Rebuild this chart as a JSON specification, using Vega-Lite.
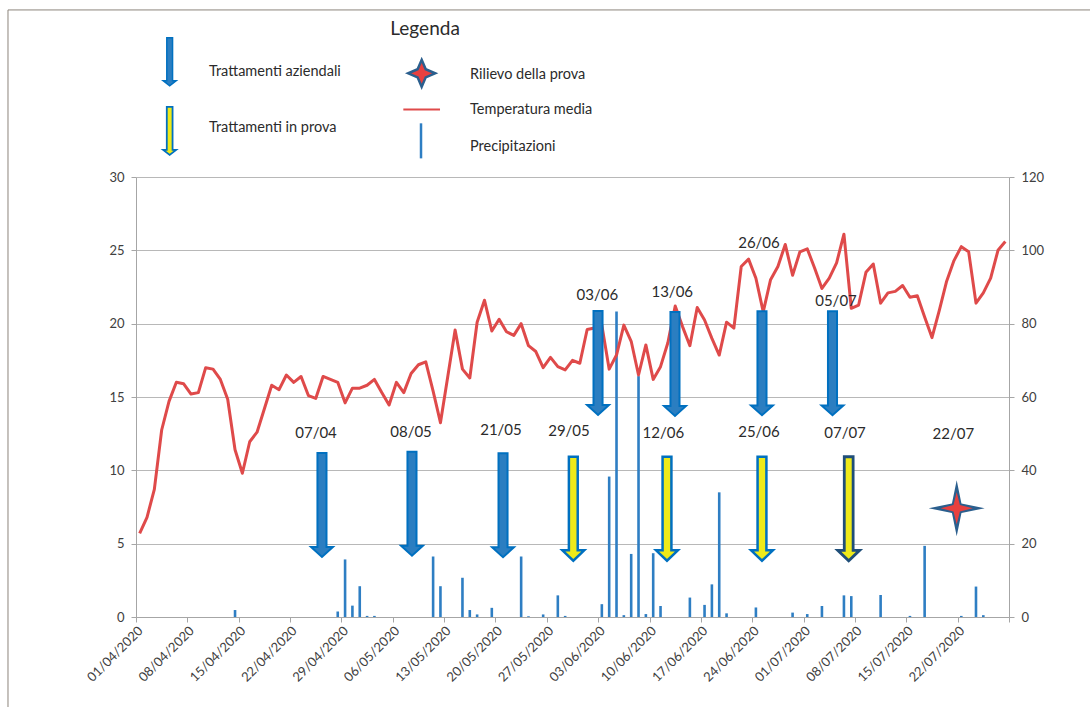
{
  "$schema": "https://vega.github.io/schema/vega-lite/v6.json",
  "width": 873,
  "height": 440,
  "autosize": {"type": "none"},
  "padding": {"left": 136, "top": 177, "right": 81, "bottom": 90},
  "background": "white",
  "config": {
    "view": {"stroke": null},
    "font": "Lato"
  },
  "datasets": {
    "daily": [
      {"date": "2020-04-01", "temp": 5.7, "precip": 0},
      {"date": "2020-04-02", "temp": 6.8, "precip": 0},
      {"date": "2020-04-03", "temp": 8.7, "precip": 0},
      {"date": "2020-04-04", "temp": 12.75, "precip": 0},
      {"date": "2020-04-05", "temp": 14.7, "precip": 0},
      {"date": "2020-04-06", "temp": 16.0, "precip": 0},
      {"date": "2020-04-07", "temp": 15.9, "precip": 0},
      {"date": "2020-04-08", "temp": 15.2, "precip": 0},
      {"date": "2020-04-09", "temp": 15.3, "precip": 0},
      {"date": "2020-04-10", "temp": 17.0, "precip": 0},
      {"date": "2020-04-11", "temp": 16.9, "precip": 0},
      {"date": "2020-04-12", "temp": 16.2, "precip": 0},
      {"date": "2020-04-13", "temp": 14.85, "precip": 0},
      {"date": "2020-04-14", "temp": 11.4, "precip": 1.9},
      {"date": "2020-04-15", "temp": 9.8, "precip": 0},
      {"date": "2020-04-16", "temp": 11.95, "precip": 0},
      {"date": "2020-04-17", "temp": 12.6, "precip": 0},
      {"date": "2020-04-18", "temp": 14.2, "precip": 0},
      {"date": "2020-04-19", "temp": 15.8, "precip": 0},
      {"date": "2020-04-20", "temp": 15.5, "precip": 0},
      {"date": "2020-04-21", "temp": 16.5, "precip": 0},
      {"date": "2020-04-22", "temp": 16.0, "precip": 0},
      {"date": "2020-04-23", "temp": 16.4, "precip": 0},
      {"date": "2020-04-24", "temp": 15.1, "precip": 0},
      {"date": "2020-04-25", "temp": 14.9, "precip": 0},
      {"date": "2020-04-26", "temp": 16.4, "precip": 0},
      {"date": "2020-04-27", "temp": 16.2, "precip": 0},
      {"date": "2020-04-28", "temp": 16.0, "precip": 1.5},
      {"date": "2020-04-29", "temp": 14.6, "precip": 15.7},
      {"date": "2020-04-30", "temp": 15.6, "precip": 3.1},
      {"date": "2020-05-01", "temp": 15.6, "precip": 8.4},
      {"date": "2020-05-02", "temp": 15.8, "precip": 0.3},
      {"date": "2020-05-03", "temp": 16.2, "precip": 0.3},
      {"date": "2020-05-04", "temp": 15.3, "precip": 0},
      {"date": "2020-05-05", "temp": 14.45, "precip": 0},
      {"date": "2020-05-06", "temp": 16.0, "precip": 0},
      {"date": "2020-05-07", "temp": 15.3, "precip": 0},
      {"date": "2020-05-08", "temp": 16.6, "precip": 0},
      {"date": "2020-05-09", "temp": 17.2, "precip": 0},
      {"date": "2020-05-10", "temp": 17.4, "precip": 0},
      {"date": "2020-05-11", "temp": 15.4, "precip": 16.5},
      {"date": "2020-05-12", "temp": 13.25, "precip": 8.4},
      {"date": "2020-05-13", "temp": 16.4, "precip": 0},
      {"date": "2020-05-14", "temp": 19.57, "precip": 0},
      {"date": "2020-05-15", "temp": 16.9, "precip": 10.7},
      {"date": "2020-05-16", "temp": 16.3, "precip": 1.9},
      {"date": "2020-05-17", "temp": 20.1, "precip": 0.7},
      {"date": "2020-05-18", "temp": 21.6, "precip": 0},
      {"date": "2020-05-19", "temp": 19.5, "precip": 2.5},
      {"date": "2020-05-20", "temp": 20.3, "precip": 0},
      {"date": "2020-05-21", "temp": 19.45, "precip": 0},
      {"date": "2020-05-22", "temp": 19.2, "precip": 0},
      {"date": "2020-05-23", "temp": 20.0, "precip": 16.5},
      {"date": "2020-05-24", "temp": 18.5, "precip": 0.2},
      {"date": "2020-05-25", "temp": 18.1, "precip": 0},
      {"date": "2020-05-26", "temp": 17.0, "precip": 0.7},
      {"date": "2020-05-27", "temp": 17.7, "precip": 0},
      {"date": "2020-05-28", "temp": 17.07, "precip": 5.9},
      {"date": "2020-05-29", "temp": 16.85, "precip": 0.3},
      {"date": "2020-05-30", "temp": 17.5, "precip": 0},
      {"date": "2020-05-31", "temp": 17.3, "precip": 0},
      {"date": "2020-06-01", "temp": 19.6, "precip": 0},
      {"date": "2020-06-02", "temp": 19.7, "precip": 0},
      {"date": "2020-06-03", "temp": 19.9, "precip": 3.5},
      {"date": "2020-06-04", "temp": 16.9, "precip": 38.3},
      {"date": "2020-06-05", "temp": 17.86, "precip": 83.3},
      {"date": "2020-06-06", "temp": 19.9, "precip": 0.5},
      {"date": "2020-06-07", "temp": 18.8, "precip": 17.2},
      {"date": "2020-06-08", "temp": 16.5, "precip": 65.7},
      {"date": "2020-06-09", "temp": 18.55, "precip": 0.8},
      {"date": "2020-06-10", "temp": 16.2, "precip": 17.4},
      {"date": "2020-06-11", "temp": 17.07, "precip": 3.0},
      {"date": "2020-06-12", "temp": 18.7, "precip": 0},
      {"date": "2020-06-13", "temp": 21.2, "precip": 0},
      {"date": "2020-06-14", "temp": 19.8, "precip": 0},
      {"date": "2020-06-15", "temp": 18.5, "precip": 5.3},
      {"date": "2020-06-16", "temp": 21.1, "precip": 0},
      {"date": "2020-06-17", "temp": 20.25, "precip": 3.3},
      {"date": "2020-06-18", "temp": 19.0, "precip": 8.9},
      {"date": "2020-06-19", "temp": 17.86, "precip": 34.0},
      {"date": "2020-06-20", "temp": 20.1, "precip": 1.0},
      {"date": "2020-06-21", "temp": 19.7, "precip": 0},
      {"date": "2020-06-22", "temp": 23.9, "precip": 0},
      {"date": "2020-06-23", "temp": 24.4, "precip": 0},
      {"date": "2020-06-24", "temp": 23.1, "precip": 2.6},
      {"date": "2020-06-25", "temp": 20.8, "precip": 0},
      {"date": "2020-06-26", "temp": 23.0, "precip": 0},
      {"date": "2020-06-27", "temp": 23.9, "precip": 0},
      {"date": "2020-06-28", "temp": 25.4, "precip": 0},
      {"date": "2020-06-29", "temp": 23.3, "precip": 1.2},
      {"date": "2020-06-30", "temp": 24.9, "precip": 0},
      {"date": "2020-07-01", "temp": 25.1, "precip": 0.8},
      {"date": "2020-07-02", "temp": 23.8, "precip": 0},
      {"date": "2020-07-03", "temp": 22.4, "precip": 3.0},
      {"date": "2020-07-04", "temp": 23.1, "precip": 0},
      {"date": "2020-07-05", "temp": 24.15, "precip": 0},
      {"date": "2020-07-06", "temp": 26.1, "precip": 5.9},
      {"date": "2020-07-07", "temp": 21.05, "precip": 5.7},
      {"date": "2020-07-08", "temp": 21.27, "precip": 0},
      {"date": "2020-07-09", "temp": 23.5, "precip": 0},
      {"date": "2020-07-10", "temp": 24.07, "precip": 0},
      {"date": "2020-07-11", "temp": 21.4, "precip": 6.0},
      {"date": "2020-07-12", "temp": 22.1, "precip": 0},
      {"date": "2020-07-13", "temp": 22.2, "precip": 0},
      {"date": "2020-07-14", "temp": 22.6, "precip": 0},
      {"date": "2020-07-15", "temp": 21.8, "precip": 0.3},
      {"date": "2020-07-16", "temp": 21.9, "precip": 0},
      {"date": "2020-07-17", "temp": 20.45, "precip": 19.4},
      {"date": "2020-07-18", "temp": 19.05, "precip": 0},
      {"date": "2020-07-19", "temp": 20.9, "precip": 0},
      {"date": "2020-07-20", "temp": 22.9, "precip": 0},
      {"date": "2020-07-21", "temp": 24.3, "precip": 0},
      {"date": "2020-07-22", "temp": 25.25, "precip": 0.3},
      {"date": "2020-07-23", "temp": 24.9, "precip": 0},
      {"date": "2020-07-24", "temp": 21.4, "precip": 8.3},
      {"date": "2020-07-25", "temp": 22.1, "precip": 0.5},
      {"date": "2020-07-26", "temp": 23.1, "precip": 0},
      {"date": "2020-07-27", "temp": 25.0, "precip": 0},
      {"date": "2020-07-28", "temp": 25.6, "precip": 0}
    ],
    "arrows": [
      {"label": "07/04", "kind": "aziendale", "date": "2020-04-26T08:24:00Z", "val": 7.64},
      {"label": "08/05", "kind": "aziendale", "date": "2020-05-08T14:53:00Z", "val": 7.73},
      {"label": "21/05", "kind": "aziendale", "date": "2020-05-21T00:43:00Z", "val": 7.62},
      {"label": "29/05", "kind": "prova", "date": "2020-05-30T14:38:00Z", "val": 7.38},
      {"label": "03/06", "kind": "aziendale", "date": "2020-06-02T23:31:00Z", "val": 17.32},
      {"label": "13/06", "kind": "aziendale", "date": "2020-06-13T11:17:00Z", "val": 17.25},
      {"label": "12/06", "kind": "prova", "date": "2020-06-12T09:07:00Z", "val": 7.38},
      {"label": "26/06", "kind": "aziendale", "date": "2020-06-25T07:55:00Z", "val": 17.3},
      {"label": "05/07", "kind": "aziendale", "date": "2020-07-04T22:33:00Z", "val": 17.3},
      {"label": "25/06", "kind": "prova", "date": "2020-06-25T07:55:00Z", "val": 7.38},
      {"label": "07/07", "kind": "prova_scuro", "date": "2020-07-07T03:36:00Z", "val": 7.38}
    ],
    "labels": [
      {"text": "07/04", "date": "2020-04-25T12:58:00Z", "val": 12.55},
      {"text": "08/05", "date": "2020-05-08T11:46:00Z", "val": 12.6},
      {"text": "21/05", "date": "2020-05-20T18:00:00Z", "val": 12.75},
      {"text": "29/05", "date": "2020-05-30T00:29:00Z", "val": 12.68},
      {"text": "03/06", "date": "2020-06-02T21:07:00Z", "val": 21.95},
      {"text": "13/06", "date": "2020-06-13T02:24:00Z", "val": 22.16},
      {"text": "12/06", "date": "2020-06-11T21:07:00Z", "val": 12.55},
      {"text": "26/06", "date": "2020-06-24T22:05:00Z", "val": 25.52},
      {"text": "05/07", "date": "2020-07-05T10:05:00Z", "val": 21.57},
      {"text": "25/06", "date": "2020-06-24T22:05:00Z", "val": 12.63},
      {"text": "07/07", "date": "2020-07-06T15:36:00Z", "val": 12.55},
      {"text": "22/07", "date": "2020-07-21T09:50:00Z", "val": 12.48}
    ],
    "rilievo": [
      {"date": "2020-07-21T20:53:00Z", "val": 7.41}
    ],
    "legendTitle": [
      {"text": "Legenda", "date": "2020-05-10T09:36:00Z", "val": 40.09}
    ],
    "legendText": [
      {"text": "Trattamenti aziendali", "date": "2020-04-10T22:48:00Z", "val": 37.18},
      {"text": "Trattamenti in prova", "date": "2020-04-10T22:48:00Z", "val": 33.36},
      {"text": "Rilievo della prova", "date": "2020-05-16T12:43:00Z", "val": 36.95},
      {"text": "Temperatura media", "date": "2020-05-16T12:43:00Z", "val": 34.57},
      {"text": "Precipitazioni", "date": "2020-05-16T12:43:00Z", "val": 32.07}
    ],
    "legendArrows": [
      {"kind": "aziendale", "date": "2020-04-05T14:10:00Z", "val": 37.86},
      {"kind": "prova", "date": "2020-04-05T14:10:00Z", "val": 33.14}
    ],
    "legendStar": [
      {"date": "2020-05-09T22:34:00Z", "val": 37.07}
    ],
    "legendTemp": [
      {"date": "2020-05-07T10:34:00Z", "date2": "2020-05-12T10:34:00Z", "val": 34.6}
    ],
    "legendPrecip": [
      {"date": "2020-05-09T20:24:00Z", "val": 33.66, "val2": 31.27}
    ],
    "frame": [
      {"date": "2020-03-14T13:12:00Z", "date2": "2020-08-15T00:00:00Z", "val": 41.39, "val2": 41.39},
      {"date": "2020-03-14T13:12:00Z", "date2": "2020-03-14T13:12:00Z", "val": 41.39, "val2": -7}
    ]
  },
  "layer": [
    {
      "data": {"name": "daily"},
      "transform": [{"filter": "datum.precip > 0"}],
      "mark": {"type": "rule", "color": "#2E7EC3", "strokeWidth": 2.6, "strokeCap": "butt"},
      "encoding": {
        "x": {
          "field": "date", "type": "temporal", "timeUnit": "utcyearmonthdate", "bandPosition": 0.5,
          "scale": {"type": "utc", "domain": [{"year": 2020, "month": 4, "date": 1, "utc": true}, {"year": 2020, "month": 7, "date": 29, "utc": true}]}
        },
        "y": {
          "field": "precip", "type": "quantitative",
          "scale": {"domain": [0, 120], "nice": false},
          "axis": {
            "orient": "right", "title": null, "values": [0, 20, 40, 60, 80, 100, 120],
            "grid": false, "labelFontSize": 13, "labelColor": "#404040", "labelPadding": 7,
            "tickSize": 5, "tickColor": "#A6A6A6", "domainColor": "#A6A6A6"
          }
        },
        "y2": {"datum": 0}
      }
    },
    {
      "layer": [
        {
          "data": {"name": "daily"},
          "mark": {"type": "line", "color": "#DF4A4A", "strokeWidth": 3, "strokeJoin": "round"},
          "encoding": {
            "x": {
              "field": "date", "type": "temporal", "timeUnit": "utcyearmonthdate", "bandPosition": 0.5,
              "scale": {"type": "utc", "domain": [{"year": 2020, "month": 4, "date": 1, "utc": true}, {"year": 2020, "month": 7, "date": 29, "utc": true}]},
              "axis": {
                "title": null,
                "values": [
                  {"year": 2020, "month": 4, "date": 1, "utc": true},
                  {"year": 2020, "month": 4, "date": 8, "utc": true},
                  {"year": 2020, "month": 4, "date": 15, "utc": true},
                  {"year": 2020, "month": 4, "date": 22, "utc": true},
                  {"year": 2020, "month": 4, "date": 29, "utc": true},
                  {"year": 2020, "month": 5, "date": 6, "utc": true},
                  {"year": 2020, "month": 5, "date": 13, "utc": true},
                  {"year": 2020, "month": 5, "date": 20, "utc": true},
                  {"year": 2020, "month": 5, "date": 27, "utc": true},
                  {"year": 2020, "month": 6, "date": 3, "utc": true},
                  {"year": 2020, "month": 6, "date": 10, "utc": true},
                  {"year": 2020, "month": 6, "date": 17, "utc": true},
                  {"year": 2020, "month": 6, "date": 24, "utc": true},
                  {"year": 2020, "month": 7, "date": 1, "utc": true},
                  {"year": 2020, "month": 7, "date": 8, "utc": true},
                  {"year": 2020, "month": 7, "date": 15, "utc": true},
                  {"year": 2020, "month": 7, "date": 22, "utc": true},
                  {"year": 2020, "month": 7, "date": 29, "utc": true}
                ],
                "format": "%d/%m/%Y",
                "labelExpr": "utcmonth(datum.value) == 6 && utcdate(datum.value) == 29 ? '' : datum.label",
                "labelAngle": -45,
                "labelOverlap": false,
                "labelFlush": false,
                "labelFontSize": 13,
                "labelColor": "#404040",
                "labelPadding": 2,
                "tickSize": 5,
                "tickColor": "#A6A6A6",
                "domainColor": "#A6A6A6",
                "grid": false
              }
            },
            "y": {
              "field": "temp", "type": "quantitative",
              "scale": {"domain": [0, 30], "nice": false},
              "axis": {
                "orient": "left", "title": null, "values": [0, 5, 10, 15, 20, 25, 30],
                "grid": true, "gridColor": "#B8B8B8", "gridWidth": 1,
                "labelFontSize": 13, "labelColor": "#404040", "labelPadding": 7,
                "tickSize": 5, "tickColor": "#A6A6A6", "domainColor": "#A6A6A6"
              }
            }
          }
        },
        {
          "data": {"name": "arrows"},
          "transform": [{"filter": "datum.kind == 'aziendale'"}],
          "mark": {"type": "point", "shape": "M-0.087,-1L0.087,-1L0.087,0.81L0.21,0.81L0,1L-0.21,0.81L-0.087,0.81Z", "size": 10816, "filled": true, "fill": "#2B7EC1", "stroke": "#0070C0", "strokeWidth": 2, "opacity": 1},
          "encoding": {
            "x": {"field": "date", "type": "temporal", "scale": {"type": "utc"}},
            "y": {"field": "val", "type": "quantitative"}
          }
        },
        {
          "data": {"name": "arrows"},
          "transform": [{"filter": "datum.kind == 'prova'"}],
          "mark": {"type": "point", "shape": "M-0.085,-1L0.085,-1L0.085,0.8L0.21,0.8L0,1L-0.21,0.8L-0.085,0.8Z", "size": 10816, "filled": true, "fill": "#EEEA1A", "stroke": "#0070C0", "strokeWidth": 2.5, "opacity": 1},
          "encoding": {
            "x": {"field": "date", "type": "temporal", "scale": {"type": "utc"}},
            "y": {"field": "val", "type": "quantitative"}
          }
        },
        {
          "data": {"name": "arrows"},
          "transform": [{"filter": "datum.kind == 'prova_scuro'"}],
          "mark": {"type": "point", "shape": "M-0.085,-1L0.085,-1L0.085,0.8L0.21,0.8L0,1L-0.21,0.8L-0.085,0.8Z", "size": 10816, "filled": true, "fill": "#EEEA1A", "stroke": "#1F4E79", "strokeWidth": 2.8, "opacity": 1},
          "encoding": {
            "x": {"field": "date", "type": "temporal", "scale": {"type": "utc"}},
            "y": {"field": "val", "type": "quantitative"}
          }
        },
        {
          "data": {"name": "rilievo"},
          "mark": {"type": "point", "shape": "M0,-1L0.17,-0.17L1,0L0.17,0.17L0,1L-0.17,0.17L-1,0L-0.17,-0.17Z", "size": 3136, "filled": true, "fill": "#2B5F8E", "opacity": 1},
          "encoding": {
            "x": {"field": "date", "type": "temporal", "scale": {"type": "utc"}},
            "y": {"field": "val", "type": "quantitative"}
          }
        },
        {
          "data": {"name": "rilievo"},
          "mark": {"type": "point", "shape": "M0,-1L0.2,-0.2L1,0L0.2,0.2L0,1L-0.2,0.2L-1,0L-0.2,-0.2Z", "size": 1024, "filled": true, "fill": "#E8403F", "opacity": 1},
          "encoding": {
            "x": {"field": "date", "type": "temporal", "scale": {"type": "utc"}},
            "y": {"field": "val", "type": "quantitative"}
          }
        },
        {
          "data": {"name": "labels"},
          "mark": {"type": "text", "fontSize": 15, "color": "#2B2B2B", "align": "center", "baseline": "middle"},
          "encoding": {
            "x": {"field": "date", "type": "temporal", "scale": {"type": "utc"}},
            "y": {"field": "val", "type": "quantitative"},
            "text": {"field": "text"}
          }
        },
        {
          "data": {"name": "legendTitle"},
          "mark": {"type": "text", "fontSize": 19, "color": "#2B2B2B", "align": "center", "baseline": "middle"},
          "encoding": {
            "x": {"field": "date", "type": "temporal", "scale": {"type": "utc"}},
            "y": {"field": "val", "type": "quantitative"},
            "text": {"field": "text"}
          }
        },
        {
          "data": {"name": "legendText"},
          "mark": {"type": "text", "fontSize": 14.5, "color": "#2B2B2B", "align": "left", "baseline": "middle"},
          "encoding": {
            "x": {"field": "date", "type": "temporal", "scale": {"type": "utc"}},
            "y": {"field": "val", "type": "quantitative"},
            "text": {"field": "text"}
          }
        },
        {
          "data": {"name": "legendArrows"},
          "transform": [{"filter": "datum.kind == 'aziendale'"}],
          "mark": {"type": "point", "shape": "M-0.12,-1L0.12,-1L0.12,0.79L0.27,0.79L0,1L-0.27,0.79L-0.12,0.79Z", "size": 2304, "filled": true, "fill": "#2B7EC1", "stroke": "#0070C0", "strokeWidth": 1.5, "opacity": 1},
          "encoding": {
            "x": {"field": "date", "type": "temporal", "scale": {"type": "utc"}},
            "y": {"field": "val", "type": "quantitative"}
          }
        },
        {
          "data": {"name": "legendArrows"},
          "transform": [{"filter": "datum.kind == 'prova'"}],
          "mark": {"type": "point", "shape": "M-0.12,-1L0.12,-1L0.12,0.79L0.27,0.79L0,1L-0.27,0.79L-0.12,0.79Z", "size": 2304, "filled": true, "fill": "#EEEA1A", "stroke": "#0070C0", "strokeWidth": 1.8, "opacity": 1},
          "encoding": {
            "x": {"field": "date", "type": "temporal", "scale": {"type": "utc"}},
            "y": {"field": "val", "type": "quantitative"}
          }
        },
        {
          "data": {"name": "legendStar"},
          "mark": {"type": "point", "shape": "M0,-1L0.3,-0.3L1,0L0.3,0.3L0,1L-0.3,0.3L-1,0L-0.3,-0.3Z", "size": 729, "filled": true, "fill": "#E8403F", "stroke": "#2B5F8E", "strokeWidth": 2.5, "opacity": 1},
          "encoding": {
            "x": {"field": "date", "type": "temporal", "scale": {"type": "utc"}},
            "y": {"field": "val", "type": "quantitative"}
          }
        },
        {
          "data": {"name": "legendTemp"},
          "mark": {"type": "rule", "color": "#DF4A4A", "strokeWidth": 2},
          "encoding": {
            "x": {"field": "date", "type": "temporal", "scale": {"type": "utc"}},
            "x2": {"field": "date2"},
            "y": {"field": "val", "type": "quantitative"}
          }
        },
        {
          "data": {"name": "legendPrecip"},
          "mark": {"type": "rule", "color": "#2E7EC3", "strokeWidth": 2.5, "strokeCap": "butt"},
          "encoding": {
            "x": {"field": "date", "type": "temporal", "scale": {"type": "utc"}},
            "y": {"field": "val", "type": "quantitative"},
            "y2": {"field": "val2"}
          }
        },
        {
          "data": {"name": "frame"},
          "mark": {"type": "rule", "color": "#8C857B", "strokeWidth": 1},
          "encoding": {
            "x": {"field": "date", "type": "temporal", "scale": {"type": "utc"}},
            "x2": {"field": "date2"},
            "y": {"field": "val", "type": "quantitative"},
            "y2": {"field": "val2"}
          }
        }
      ]
    }
  ],
  "resolve": {"scale": {"y": "independent"}, "axis": {"y": "independent"}}
}
